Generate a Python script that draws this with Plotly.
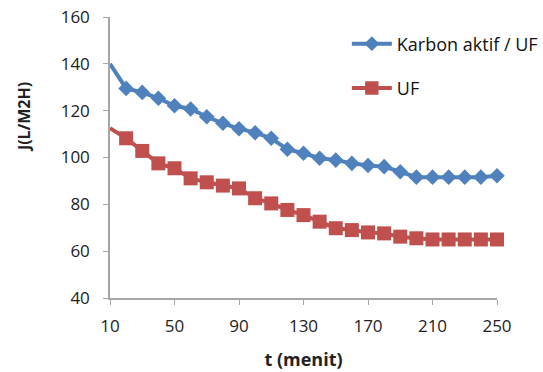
import plotly.graph_objects as go

t_menit = list(range(10, 260, 10))
karbon_uf = [140, 129.5, 127.8, 125.3, 122.1, 120.7, 117.4, 114.6, 112.3, 110.6,
             108.2, 103.5, 101.8, 99.7, 98.9, 97.5, 96.6, 96.1, 93.9, 91.6,
             91.6, 91.6, 91.6, 91.6, 92.2]
uf = [112.5, 108.2, 102.8, 97.5, 95.4, 91.1, 89.4, 88.0, 86.8, 82.6,
      80.4, 77.6, 75.4, 72.6, 69.8, 69.0, 68.0, 67.6, 66.2, 65.5,
      65.0, 65.0, 65.0, 65.0, 65.0]
series_names = ["Karbon aktif / UF", "UF"]
x_ticks = [10, 50, 90, 130, 170, 210, 250]
y_ticks = [40, 60, 80, 100, 120, 140, 160]

FONT = "Open Sans"
blue = "#4F81BD"
red = "#C0504D"

fig = go.Figure()
fig.add_trace(go.Scatter(
    x=t_menit, y=karbon_uf, name=series_names[0], mode="lines+markers",
    line=dict(color=blue, width=4),
    marker=dict(symbol="diamond", color=blue, opacity=1, line=dict(width=0),
                size=[0] + [12] * (len(t_menit) - 1)),
    cliponaxis=False, legendgroup="a"))
fig.add_trace(go.Scatter(
    x=t_menit, y=uf, name=series_names[1], mode="lines+markers",
    line=dict(color=red, width=4),
    marker=dict(symbol="square", color=red, opacity=1, line=dict(width=0),
                size=[0] + [14] * (len(t_menit) - 1)),
    cliponaxis=False, legendgroup="b"))

axis_col = "#A6A6A6"
fig.update_layout(
    width=543, height=372,
    margin=dict(l=110, r=46, t=17, b=74, autoexpand=False),
    paper_bgcolor="white", plot_bgcolor="white",
    font=dict(family=FONT, size=15, color="#222222"),
    legend=dict(x=0.612, y=0.97, xanchor="left", yanchor="top",
                font=dict(size=18, color="#111111"), tracegroupgap=18,
                itemwidth=40, bgcolor="rgba(0,0,0,0)"),
    xaxis=dict(range=[10, 250], tickvals=x_ticks, ticks="outside", ticklen=5,
               tickcolor=axis_col, showline=True, linecolor=axis_col, linewidth=1.5,
               showgrid=False, zeroline=False, ticklabelstandoff=7, automargin=False,
               tickfont=dict(size=17, color="#222222"),
               title=dict(text="<b>t (menit)</b>", font=dict(size=18), standoff=17)),
    yaxis=dict(range=[40, 160], tickvals=y_ticks, ticks="outside", ticklen=5,
               tickcolor=axis_col, showline=True, linecolor=axis_col, linewidth=1.5,
               showgrid=False, zeroline=False, ticklabelstandoff=10, automargin=False,
               tickfont=dict(size=17, color="#222222")),
    annotations=[dict(text="<b>J(L/M2H)</b>", textangle=-90, showarrow=False,
                      xref="paper", yref="paper", x=-0.222, y=0.644,
                      xanchor="center", yanchor="middle",
                      font=dict(size=16, color="#222222"))],
)

fig.write_html("out.html")
